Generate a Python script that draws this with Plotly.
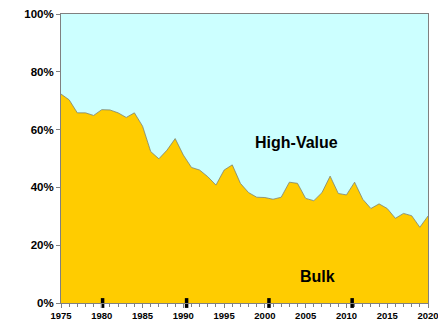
import plotly.graph_objects as go

years = list(range(1975, 2021))
bulk = [72.3, 70.3, 65.8, 65.8, 64.9, 66.9, 66.8, 65.8, 64.2, 65.8,
        61.2, 52.4, 49.9, 52.9, 56.9, 51.2, 46.9, 46.0, 43.7, 40.8,
        46.0, 47.8, 41.4, 38.2, 36.6, 36.5, 35.9, 36.6, 41.8, 41.4,
        36.2, 35.4, 38.2, 43.9, 37.9, 37.4, 41.8, 35.9, 32.7, 34.3,
        32.7, 29.3, 31.0, 30.2, 26.2, 30.1]
high_value = [round(100 - b, 1) for b in bulk]
marker_years = [1980.1, 1990.4, 2000.5, 2010.7]
y_ticks = [0, 20, 40, 60, 80, 100]
y_tick_labels = ["0%", "20%", "40%", "60%", "80%", "100%"]
x_ticks = [1975, 1980, 1985, 1990, 1995, 2000, 2005, 2010, 2015, 2020]

fig = go.Figure()
fig.add_trace(go.Scatter(x=years, y=bulk, stackgroup="one", mode="lines",
                         line=dict(color="#808060", width=0.8),
                         fillcolor="#FFCC00", name="Bulk", hoverinfo="x+y"))
fig.add_trace(go.Scatter(x=years, y=high_value, stackgroup="one", mode="lines",
                         line=dict(color="rgba(0,0,0,0)", width=0),
                         fillcolor="#CCFFFF", name="High-Value", hoverinfo="x+y"))
fig.add_trace(go.Scatter(x=marker_years, y=[0] * len(marker_years), mode="markers",
                         marker=dict(symbol="line-ns", size=7,
                                     line=dict(color="black", width=3.5)),
                         cliponaxis=False, showlegend=False, hoverinfo="skip"))

fig.add_annotation(x=2003.85, y=55.4, text="<b>High-Value</b>", showarrow=False,
                   font=dict(family="Arial, Liberation Sans", size=16, color="black"))
fig.add_annotation(x=2006.5, y=9, text="<b>Bulk</b>", showarrow=False,
                   font=dict(family="Arial, Liberation Sans", size=16, color="black"))

fig.update_layout(
    width=438, height=329,
    margin=dict(l=61, r=10, t=14, b=26, autoexpand=False),
    paper_bgcolor="white", plot_bgcolor="#CCFFFF",
    showlegend=False,
    font=dict(family="Arial, Liberation Sans", color="black"),
)
fig.update_xaxes(range=[1975, 2020], tickvals=x_ticks, automargin=False,
                 ticklabeloverflow="allow",
                 ticktext=[f"<b>{v}</b>" for v in x_ticks],
                 tickfont=dict(size=9.5), ticks="outside", ticklen=4,
                 tickcolor="#808080", showgrid=False, zeroline=False,
                 showline=True, linecolor="#808080", linewidth=1, mirror=True,
                 minor=dict(dtick=1, ticks="outside", ticklen=3, tickcolor="#808080", showgrid=False))
fig.update_yaxes(range=[0, 100], tickvals=y_ticks, automargin=False,
                 ticktext=[f"<b>{t}</b>" for t in y_tick_labels],
                 tickfont=dict(size=11.5), ticks="outside", ticklen=4,
                 tickcolor="#808080", showgrid=False, zeroline=False,
                 showline=True, linecolor="#808080", linewidth=1, mirror=True)

fig.write_html("out.html")
